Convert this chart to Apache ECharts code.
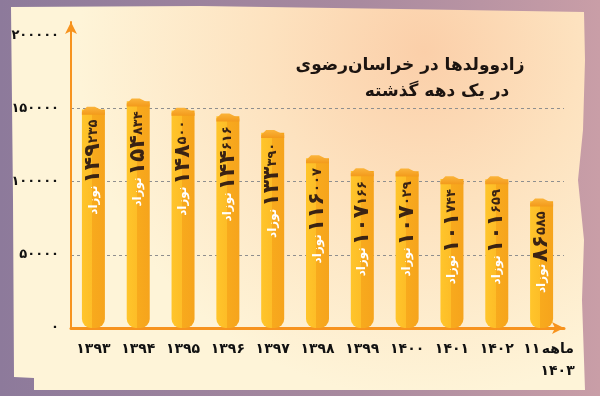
<!DOCTYPE html>
<html>
<head>
<meta charset="utf-8">
<script src="https://cdn.jsdelivr.net/npm/echarts@6/dist/echarts.min.js"></script>
<style>
html,body{margin:0;padding:0;background:#8f7b9b;}
#c{width:600px;height:396px;}
</style>
</head>
<body>
<div id="c"></div>
<script>
// ---- data ----
const categories = ['۱۳۹۳','۱۳۹۴','۱۳۹۵','۱۳۹۶','۱۳۹۷','۱۳۹۸','۱۳۹۹','۱۴۰۰','۱۴۰۱','۱۴۰۲','۱۱ ماهه\n۱۴۰۳'];
const births = [149235,154834,148500,144616,133390,116007,107166,107029,101744,101659,86585];
const yTicks = [0,50000,100000,150000,200000];
const titleLine1 = 'زادوولدها در خراسان‌رضوی';
const titleLine2 = 'در یک دهه گذشته';
const unitWord = 'نوزاد';

const FA = '۰۱۲۳۴۵۶۷۸۹';
function toFa(n){ return String(n).replace(/[0-9]/g, d => FA[+d]); }
const FONT = "'DejaVu Sans', sans-serif";

const chart = echarts.init(document.getElementById('c'), null, {renderer:'canvas'});
const option = {
  animation:false,
  backgroundColor: new echarts.graphic.LinearGradient(0,0,1,0,[
    {offset:0,color:'#8d7a9b'},{offset:0.6,color:'#a98a9f'},{offset:1,color:'#c99ea7'}]),
  graphic:[{
    type:'polygon', z:-10, silent:true,
    shape:{points:[[11,7],[200,6],[400,9],[584,12],[585,60],[583,130],[578,180],[584,240],[582,300],[585,390],[34,390],[34,378],[14,377],[13,200],[11,7]]},
    style:{fill:new echarts.graphic.RadialGradient(0.72,0.12,0.9,[
      {offset:0,color:'#fbcfa9'},{offset:0.45,color:'#fde2bf'},{offset:1,color:'#fef4d8'}])}
  }],
  title:[
    {text:titleLine1,left:405,top:52,textAlign:'center',textStyle:{fontFamily:FONT,fontSize:17,fontWeight:'bold',color:'#1c1410'}},
    {text:titleLine2,left:432,top:78,textAlign:'center',textStyle:{fontFamily:FONT,fontSize:17,fontWeight:'bold',color:'#1c1410'}}
  ],
  grid:{left:71,right:36,top:22,bottom:68},
  xAxis:{
    type:'category', data:categories,
    axisLine:{lineStyle:{color:'#f7931e',width:3},symbol:['none','arrow'],symbolSize:[9,12]},
    axisTick:{show:false},
    axisLabel:{
      margin:10, interval:0,
      formatter:function(v){
        if(v.indexOf('\n')>=0){
          const lines=v.split('\n'); const p=lines[0].split(' ');
          return '{c1|'+p[0]+'}{sp| }{c|'+p[1]+'}\n{c2|'+lines[1]+'}';
        }
        return '{c|'+v+'}';
      },
      rich:{
        c:{fontFamily:FONT,fontSize:14,fontWeight:'bold',color:'#111',lineHeight:22},
        c1:{fontFamily:FONT,fontSize:14,fontWeight:'bold',color:'#111',lineHeight:22,padding:[0,0,0,14]},
        c2:{fontFamily:FONT,fontSize:14,fontWeight:'bold',color:'#111',lineHeight:22,padding:[0,0,0,32]},
        sp:{fontSize:5}
      }
    }
  },
  yAxis:{
    type:'value', min:0, max:209000, interval:50000,
    axisLine:{show:true,lineStyle:{color:'#f7931e',width:2},symbol:['none','arrow'],symbolSize:[9,12]},
    axisTick:{show:false},
    axisLabel:{
      margin:12, fontFamily:FONT, fontSize:13, fontWeight:'bold', color:'#111',
      formatter:function(v){ return yTicks.indexOf(v)>=0 ? toFa(v) : ''; }
    },
    splitLine:{show:true,lineStyle:{type:[3,3],width:1,color:['#8f8f8f','#8f8f8f','#8f8f8f','#8f8f8f','rgba(0,0,0,0)','rgba(0,0,0,0)']}}
  },
  series:[
    {
      type:'bar', data:births, barWidth:23, z:2,
      itemStyle:{
        borderRadius:[0,0,9,9],
        color:new echarts.graphic.LinearGradient(0,0,1,0,[
          {offset:0,color:'#ffc52b'},{offset:0.45,color:'#fdbd27'},{offset:0.45,color:'#f8aa1d'},{offset:1,color:'#f6a41c'}])
      },
      label:{
        show:true, position:['50%',10], rotate:90, align:'right', verticalAlign:'middle',
        formatter:function(p){
          const s=toFa(p.value);
          return '{w|'+unitWord+'}{sp| }{b|'+s.slice(0,s.length-3)+'}{s|'+s.slice(-3)+'}';
        },
        rich:{
          b:{fontFamily:FONT,fontSize:22,fontWeight:'bold',color:'#3a2314'},
          s:{fontFamily:FONT,fontSize:13,fontWeight:'bold',color:'#3a2314'},
          sp:{fontSize:7},
          w:{fontFamily:FONT,fontSize:12,fontWeight:'bold',color:'#ffffff'}
        }
      }
    },
    {
      type:'pictorialBar', data:births, z:3, silent:true,
      symbol:'path://M0,5 L5,0 L13,0 L23,5 L23,8 L0,8 Z',
      symbolSize:[23,8], symbolPosition:'end', symbolOffset:[0,'-35%'],
      itemStyle:{color:new echarts.graphic.LinearGradient(0,0,0,1,[{offset:0,color:'#fbb43a'},{offset:1,color:'#f39a1b'}])}
    }
  ]
};
chart.setOption(option);
</script>
</body>
</html>
